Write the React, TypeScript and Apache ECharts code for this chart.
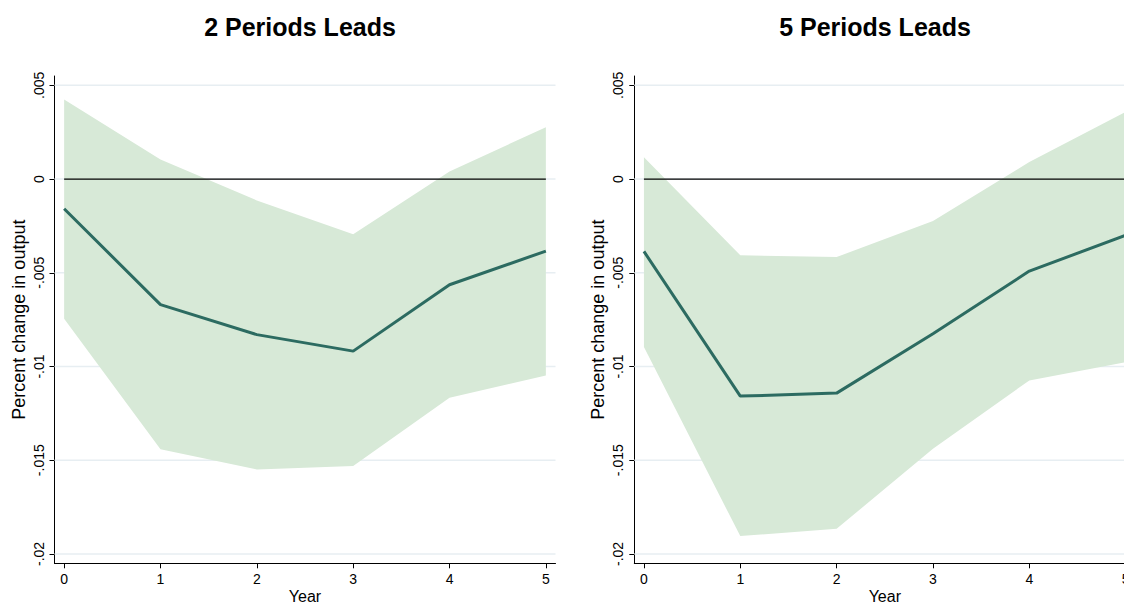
import React, { useEffect, useRef } from 'react';
import * as echarts from 'echarts';

// years after the shock
const years = [0, 1, 2, 3, 4, 5];

// 2 periods leads: impulse response and confidence band
const lead2Irf = [-0.00158, -0.0067, -0.0083, -0.00918, -0.00564, -0.00384];
const lead2Upper = [0.00424, 0.00104, -0.00114, -0.00295, 0.00041, 0.00277];
const lead2Lower = [-0.00745, -0.01442, -0.01549, -0.01531, -0.01167, -0.01048];

// 5 periods leads
const lead5Irf = [-0.00386, -0.01158, -0.01142, -0.00825, -0.00491, -0.003];
const lead5Upper = [0.00117, -0.00407, -0.00416, -0.00224, 0.00091, 0.00358];
const lead5Lower = [-0.00896, -0.01905, -0.01866, -0.01439, -0.01074, -0.00977];

const yTicks = [-0.02, -0.015, -0.01, -0.005, 0, 0.005];
const panelTitles = ['2 Periods Leads', '5 Periods Leads'];

const FONT = '"Liberation Sans", Arial, Helvetica, sans-serif';
const BAND = '#d7e9d7';
const LINE = '#2c6b61';
const GRIDLINE = '#e7eef2';
const X_MIN = -0.1;
const X_MAX = 5.1;

const fmtY = (v: number) => {
    if (v === 0) return '0';
    return String(Number(v.toFixed(4))).replace('0.', '.');
};

const App = () => {
    const chartRef = useRef(null);

    useEffect(() => {
        const chartDom = chartRef.current;
        if (!chartDom) return;

        const myChart = echarts.init(chartDom, null, { renderer: 'svg' });

        const panels = [
            { irf: lead2Irf, upper: lead2Upper, lower: lead2Lower, left: 54.5, titleX: 300 },
            { irf: lead5Irf, upper: lead5Upper, lower: lead5Lower, left: 634.3, titleX: 875 },
        ];

        const grids: any[] = [];
        const xAxes: any[] = [];
        const yAxes: any[] = [];
        const series: any[] = [];
        const graphics: any[] = [];

        panels.forEach((p, i) => {
            grids.push({ left: p.left, top: 76, width: 501, height: 487.3, outerBoundsMode: 'none', containLabel: false });
            xAxes.push({
                type: 'value',
                gridIndex: i,
                min: X_MIN,
                max: X_MAX,
                axisLine: { show: true, onZero: false, lineStyle: { color: '#000', width: 1 } },
                axisTick: { show: true, customValues: years, length: 5, lineStyle: { color: '#000' } },
                axisLabel: { customValues: years, fontSize: 14, color: '#000', margin: 9, fontFamily: FONT },
                splitLine: { show: false },
                name: 'Year',
                nameLocation: 'middle',
                nameGap: 25,
                nameMoveOverlap: false,
                nameTextStyle: { fontSize: 16, color: '#000', fontFamily: FONT, lineHeight: 16 },
            });
            yAxes.push({
                type: 'value',
                gridIndex: i,
                min: -0.0205,
                max: 0.0055,
                axisLine: { show: true, onZero: false, lineStyle: { color: '#000', width: 1 } },
                axisTick: { show: true, customValues: yTicks, length: 5, lineStyle: { color: '#000' } },
                axisLabel: {
                    customValues: yTicks,
                    rotate: 90,
                    formatter: fmtY,
                    fontSize: 14,
                    color: '#000',
                    margin: 9,
                    fontFamily: FONT,
                },
                splitLine: { show: false },
                name: 'Percent change in output',
                nameLocation: 'middle',
                nameGap: 27,
                nameMoveOverlap: false,
                nameTextStyle: { fontSize: 18, color: '#000', fontFamily: FONT },
            });

            // horizontal grid lines
            series.push({
                type: 'custom',
                xAxisIndex: i,
                yAxisIndex: i,
                silent: true,
                z: 1,
                data: yTicks.map((v) => [0, v]),
                encode: { x: 0, y: 1 },
                renderItem: (params: any, api: any) => {
                    const v = api.value(1);
                    const a = api.coord([X_MIN, v]);
                    const b = api.coord([X_MAX, v]);
                    return {
                        type: 'line',
                        shape: { x1: a[0], y1: a[1], x2: b[0], y2: b[1] },
                        style: { stroke: GRIDLINE, lineWidth: 1.5 },
                    };
                },
            });

            // confidence band
            series.push({
                type: 'custom',
                xAxisIndex: i,
                yAxisIndex: i,
                silent: true,
                z: 2,
                data: years.map((x, k) => [x, p.lower[k], p.upper[k]]),
                encode: { x: 0, y: [1, 2] },
                renderItem: (params: any, api: any) => {
                    if (params.dataIndex !== 0) return null;
                    const top = years.map((x, k) => api.coord([x, p.upper[k]]));
                    const bottom = years.map((x, k) => api.coord([x, p.lower[k]])).reverse();
                    return {
                        type: 'polygon',
                        shape: { points: top.concat(bottom) },
                        style: { fill: BAND },
                    };
                },
            });

            // zero line
            series.push({
                type: 'line',
                xAxisIndex: i,
                yAxisIndex: i,
                symbol: 'none',
                silent: true,
                lineStyle: { color: '#000', width: 1.3 },
                data: [[years[0], 0], [years[years.length - 1], 0]],
                z: 3,
            });

            // impulse response
            series.push({
                type: 'line',
                xAxisIndex: i,
                yAxisIndex: i,
                symbol: 'none',
                lineStyle: { color: LINE, width: 3 },
                data: years.map((x, k) => [x, p.irf[k]]),
                z: 4,
            });

            graphics.push({
                type: 'text',
                x: p.titleX,
                y: 27,
                style: {
                    text: panelTitles[i],
                    fontSize: 25,
                    fontWeight: 'bold',
                    fontFamily: FONT,
                    fill: '#000',
                    textAlign: 'center',
                    textVerticalAlign: 'middle',
                },
            });
        });

        const option = {
            animation: false,
            backgroundColor: '#fff',
            grid: grids,
            xAxis: xAxes,
            yAxis: yAxes,
            series,
            graphic: graphics,
        };

        myChart.setOption(option);

        return () => {
            myChart.dispose();
        };
    }, []);

    return (
        <div style={{ position: 'fixed', left: 0, top: 0, width: '1124px', height: '605px', overflow: 'hidden', background: '#fff' }}>
            <div ref={chartRef} style={{ width: '1160px', height: '605px' }}></div>
        </div>
    );
};

export default App;
